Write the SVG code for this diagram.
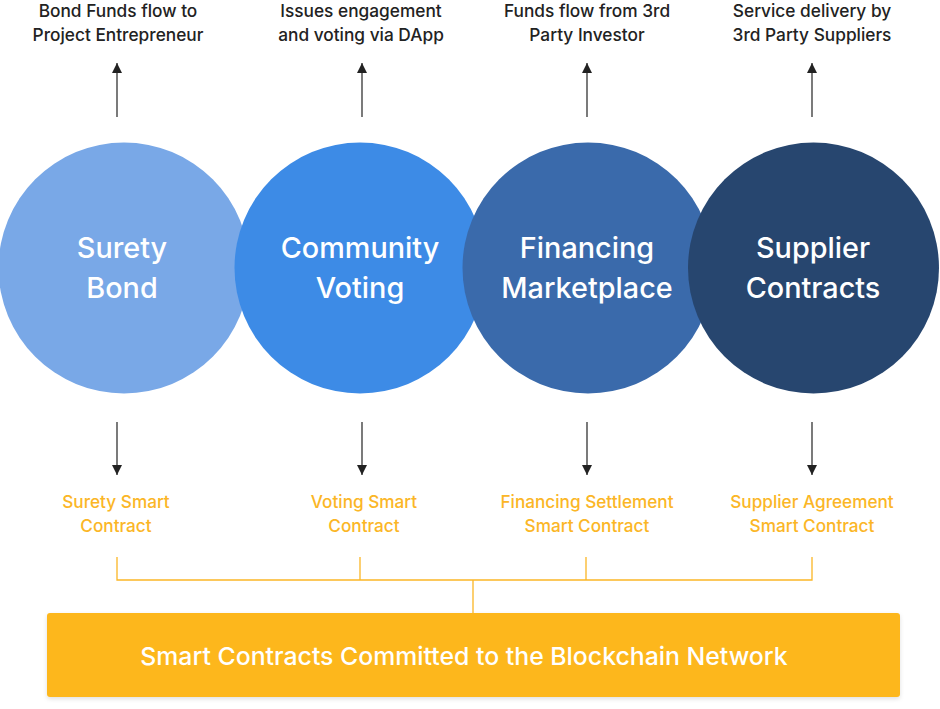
<svg xmlns="http://www.w3.org/2000/svg" width="940" height="709" viewBox="0 0 940 709">
<style>
.top{font-family:Inter,"Open Sans","Liberation Sans",sans-serif;font-size:17.3px;font-weight:500;fill:#222;text-anchor:middle}
.lbl{font-family:Inter,"Open Sans","Liberation Sans",sans-serif;font-size:28.8px;font-weight:500;fill:#fff;text-anchor:middle}
.sc{font-family:Inter,"Open Sans","Liberation Sans",sans-serif;font-size:17.2px;font-weight:500;fill:#FBB626;text-anchor:middle}
.ban{font-family:Inter,"Open Sans","Liberation Sans",sans-serif;font-size:24.8px;font-weight:500;fill:#fff;text-anchor:middle}
.ar{stroke:#333;stroke-width:1.3;fill:none}
.ol{stroke:#FBB626;stroke-width:1.3;fill:none}
</style>
<defs>
<marker id="ah" viewBox="0 0 10 10" refX="10" refY="5" markerWidth="10" markerHeight="10" markerUnits="userSpaceOnUse" orient="auto">
<path d="M0,0 L10,5 L0,10 Z" fill="#222"/>
</marker>
<filter id="sh" x="-5%" y="-20%" width="110%" height="150%">
<feDropShadow dx="0" dy="2" stdDeviation="2" flood-color="#000" flood-opacity="0.12"/>
</filter>
</defs>
<g id="node-surety">
<circle cx="124" cy="268" r="125.5" fill="#79A8E7"/>
<text class="lbl" x="122" y="257.5">Surety</text>
<text class="lbl" x="122" y="298">Bond</text>
</g>
<g id="node-community">
<circle cx="360" cy="268" r="125.5" fill="#3D8BE6"/>
<text class="lbl" x="360" y="257.5">Community</text>
<text class="lbl" x="360" y="298">Voting</text>
</g>
<g id="node-financing">
<circle cx="588" cy="268" r="125.5" fill="#3A6AAB"/>
<text class="lbl" x="587" y="257.5">Financing</text>
<text class="lbl" x="587" y="298">Marketplace</text>
</g>
<g id="node-supplier">
<circle cx="813.5" cy="268" r="125.5" fill="#27466F"/>
<text class="lbl" x="813" y="257.5">Supplier</text>
<text class="lbl" x="813" y="298">Contracts</text>
</g>
<g id="label-top-1"><text class="top" x="118" y="16.5">Bond Funds flow to</text><text class="top" x="118" y="40.5">Project Entrepreneur</text></g>
<g id="label-top-2"><text class="top" x="361" y="16.5">Issues engagement</text><text class="top" x="361" y="40.5">and voting via DApp</text></g>
<g id="label-top-3"><text class="top" x="587" y="16.5">Funds flow from 3rd</text><text class="top" x="587" y="40.5">Party Investor</text></g>
<g id="label-top-4"><text class="top" x="812" y="16.5">Service delivery by</text><text class="top" x="812" y="40.5">3rd Party Suppliers</text></g>
<g id="sc-1"><text class="sc" x="116" y="507.5">Surety Smart</text><text class="sc" x="116" y="531.5">Contract</text></g>
<g id="sc-2"><text class="sc" x="364" y="507.5">Voting Smart</text><text class="sc" x="364" y="531.5">Contract</text></g>
<g id="sc-3"><text class="sc" x="587" y="507.5">Financing Settlement</text><text class="sc" x="587" y="531.5">Smart Contract</text></g>
<g id="sc-4"><text class="sc" x="812" y="507.5">Supplier Agreement</text><text class="sc" x="812" y="531.5">Smart Contract</text></g>
<g id="node-blockchain">
<rect x="47" y="613" width="853" height="84" rx="3" fill="#FDB71F" filter="url(#sh)"/>
<text class="ban" x="464" y="665">Smart Contracts Committed to the Blockchain Network</text>
</g>
<g id="connectors">
<path class="ar" d="M117,117 V63" marker-end="url(#ah)"/>
<path class="ar" d="M362,117 V63" marker-end="url(#ah)"/>
<path class="ar" d="M587,117 V63" marker-end="url(#ah)"/>
<path class="ar" d="M812,117 V63" marker-end="url(#ah)"/>
<path class="ar" d="M117,422 V475" marker-end="url(#ah)"/>
<path class="ar" d="M362,422 V475" marker-end="url(#ah)"/>
<path class="ar" d="M587,422 V475" marker-end="url(#ah)"/>
<path class="ar" d="M812,422 V475" marker-end="url(#ah)"/>
<path class="ol" d="M117,557 V580 H812 V557 M360,557 V580 M586,557 V580 M473,580 V613"/>
</g>
</svg>
